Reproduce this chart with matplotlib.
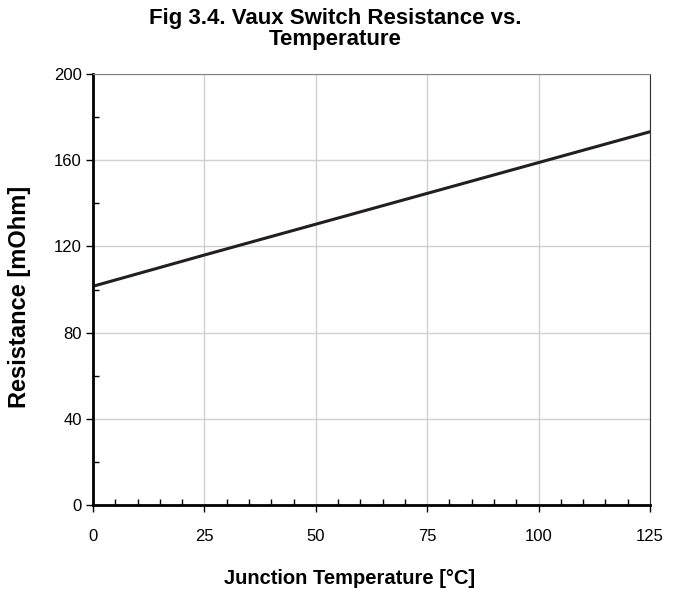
import numpy as np
import matplotlib.pyplot as plt
from matplotlib.ticker import MultipleLocator

plt.rcParams['font.family'] = ['Liberation Sans', 'DejaVu Sans']

temp = [0, 25, 50, 75, 100, 125]
resistance = [101.5, 116.0, 130.3, 144.6, 158.9, 173.2]

fig = plt.figure(figsize=(6.81, 5.9), dpi=100)
ax = fig.add_axes([93/681, 1-505/590, (650-93)/681, (505-74)/590])

ax.plot(temp, resistance, color='#231f20', lw=2.2)

ax.set_xlim(0, 125)
ax.set_ylim(0, 200)
ax.xaxis.set_major_locator(MultipleLocator(25))
ax.xaxis.set_minor_locator(MultipleLocator(5))
ax.yaxis.set_major_locator(MultipleLocator(40))
ax.yaxis.set_minor_locator(MultipleLocator(20))
ax.grid(True, which='major', color='#d0d0d0', lw=1)
ax.set_axisbelow(True)
ax.tick_params(which='major', direction='out', length=5, width=1, labelsize=12)
ax.tick_params(axis='x', which='major', pad=12)
ax.tick_params(axis='y', which='major', pad=3)
ax.tick_params(which='minor', direction='in', length=4, width=1)

for s in ['left', 'bottom']:
    ax.spines[s].set_linewidth(2)
    ax.spines[s].set_color('black')
ax.spines['top'].set_color('#808080')
ax.spines['right'].set_color('#303030')

fig.text(335/681, 1-29/590, 'Fig 3.4. Vaux Switch Resistance vs.\nTemperature', fontsize=16,
         fontweight='bold', ha='center', va='center', linespacing=1.05)
fig.text(350/681, 1-578/590, 'Junction Temperature [°C]', fontsize=14.5, fontweight='bold',
         ha='center', va='center')
fig.text(20/681, 1-297/590, 'Resistance [mOhm]', fontsize=17, fontweight='bold',
         ha='center', va='center', rotation=90)

fig.savefig('out.png', dpi=100)
